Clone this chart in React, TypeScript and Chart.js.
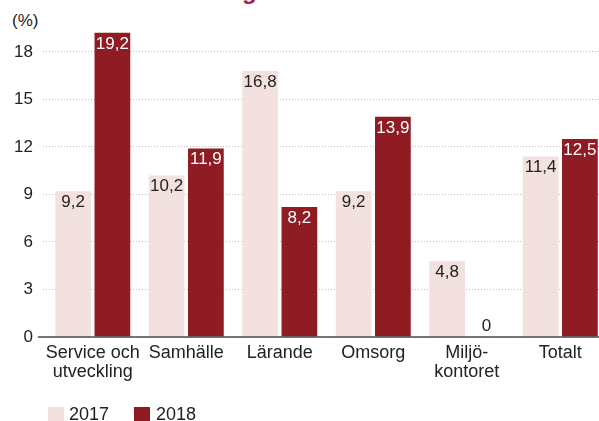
import { useEffect, useRef } from 'react';
import { Chart, registerables } from 'chart.js';

Chart.register(...registerables);

const categories: (string | string[])[] = [
  ['Service och', 'utveckling'],
  'Samhälle',
  'Lärande',
  'Omsorg',
  ['Miljö-', 'kontoret'],
  'Totalt',
];
const values2017 = [9.2, 10.2, 16.8, 9.2, 4.8, 11.4];
const values2018 = [19.2, 11.9, 8.2, 13.9, 0, 12.5];
const seriesNames = ['2017', '2018'];
const yTicks = [0, 3, 6, 9, 12, 15, 18];
const unitLabel = '(%)';
const titleText = 'Personalomsättning';

const COLOR_2017 = '#f2e1df';
const COLOR_2018 = '#8f1b23';
const FONT = "'Liberation Sans', Arial, sans-serif";

const overlayPlugin = {
  id: 'overlay',
  afterDatasetsDraw(chart: any) {
    const ctx = chart.ctx;
    const yScale = chart.scales.y;
    const y0 = yScale.getPixelForValue(0);
    ctx.save();
    // axis baseline
    ctx.strokeStyle = '#4a4a4a';
    ctx.lineWidth = 1.5;
    ctx.beginPath();
    ctx.moveTo(chart.chartArea.left - 8, y0);
    ctx.lineTo(chart.chartArea.right, y0);
    ctx.stroke();
    // data labels
    ctx.font = `17px ${FONT}`;
    ctx.textAlign = 'center';
    ctx.textBaseline = 'middle';
    chart.data.datasets.forEach((ds: any, di: number) => {
      const meta = chart.getDatasetMeta(di);
      meta.data.forEach((el: any, i: number) => {
        const v = ds.data[i] as number;
        const txt = String(v).replace('.', ',');
        if (v === 0) {
          ctx.fillStyle = '#222';
          ctx.fillText(txt, el.x, y0 - 11);
        } else {
          ctx.fillStyle = di === 1 ? '#ffffff' : '#222';
          ctx.fillText(txt, el.x, el.y + 11);
        }
      });
    });
    ctx.restore();
  },
};

export default function App() {
  const ref = useRef<HTMLCanvasElement>(null);
  useEffect(() => {
    if (!ref.current) return;
    const chart = new Chart(ref.current, {
      type: 'bar',
      data: {
        labels: categories,
        datasets: [
          {
            label: seriesNames[0],
            data: values2017,
            backgroundColor: COLOR_2017,
            categoryPercentage: 0.84,
            barPercentage: 0.91,
          },
          {
            label: seriesNames[1],
            data: values2018,
            backgroundColor: COLOR_2018,
            categoryPercentage: 0.84,
            barPercentage: 0.91,
          },
        ],
      },
      options: {
        responsive: false,
        animation: false,
        layout: { padding: { top: 20, bottom: 0, left: 0, right: 0 } },
        plugins: {
          legend: { display: false },
          tooltip: { enabled: false },
        },
        scales: {
          x: {
            grid: { display: false, drawTicks: false },
            border: { display: false },
            ticks: {
              font: { family: FONT, size: 18, lineHeight: 19 / 18 },
              color: '#222',
              padding: 7,
              maxRotation: 0,
              autoSkip: false,
            },
            afterFit: (axis: any) => {
              axis.height = 84;
            },
          },
          y: {
            min: 0,
            max: 20,
            afterBuildTicks: (axis: any) => {
              axis.ticks = yTicks.map((v) => ({ value: v }));
            },
            afterFit: (axis: any) => {
              axis.width = 46;
            },
            border: { display: false, dash: [1, 2] },
            grid: {
              color: '#bdbdbd',
              lineWidth: 1,
              drawTicks: true,
              tickLength: 3,
              tickColor: '#bdbdbd',
              tickBorderDash: [1, 2],
            },
            ticks: {
              font: { family: FONT, size: 17 },
              color: '#222',
              padding: 10,
              callback: (v: any) => String(v),
            },
          },
        },
      },
      plugins: [overlayPlugin],
    } as any);
    return () => chart.destroy();
  }, []);

  return (
    <div
      style={{
        position: 'fixed',
        left: 0,
        top: 0,
        width: 599,
        height: 421,
        overflow: 'hidden',
        background: '#fff',
        fontFamily: FONT,
      }}
    >
      <div
        style={{
          position: 'absolute',
          left: 26,
          top: -21,
          fontSize: 24,
          lineHeight: '24px',
          fontWeight: 'bold',
          color: '#a3204f',
          whiteSpace: 'nowrap',
        }}
      >
        {titleText}
      </div>
      <div
        style={{
          position: 'absolute',
          left: 12,
          top: 12,
          fontSize: 17,
          lineHeight: '17px',
          color: '#222',
        }}
      >
        {unitLabel}
      </div>
      <canvas
        ref={ref}
        width={607}
        height={421}
        style={{ position: 'absolute', left: 0, top: 0, width: 607, height: 421 }}
      />
      {seriesNames.map((name, i) => (
        <div key={name}>
          <span
            style={{
              position: 'absolute',
              left: 48 + i * 86,
              top: 407,
              width: 16,
              height: 16,
              background: i === 0 ? COLOR_2017 : COLOR_2018,
            }}
          />
          <span
            style={{
              position: 'absolute',
              left: 69 + i * 87,
              top: 405,
              fontSize: 18,
              lineHeight: '18px',
              color: '#222',
              whiteSpace: 'nowrap',
            }}
          >
            {name}
          </span>
        </div>
      ))}
    </div>
  );
}
